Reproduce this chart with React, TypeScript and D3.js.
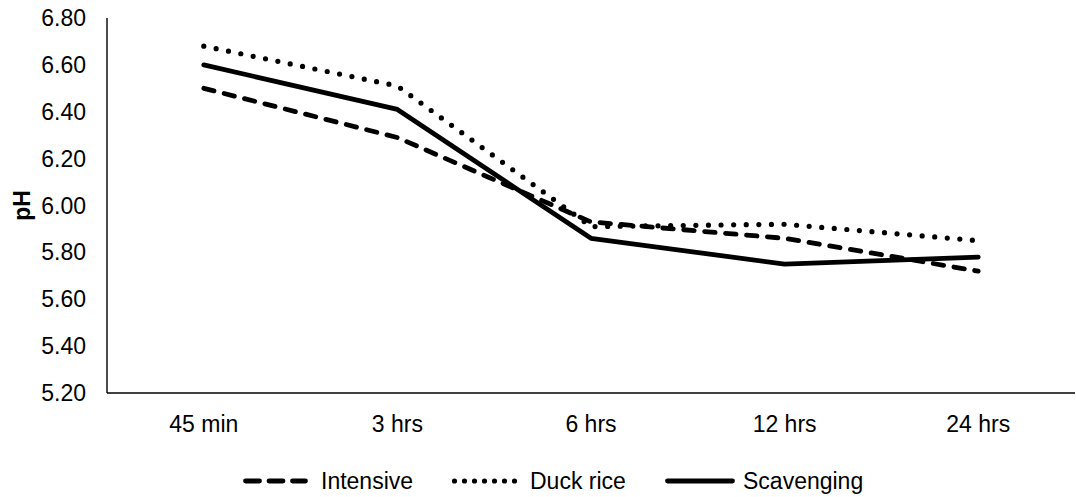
import React from "react";
import * as d3 from "d3";

const categories = ["45 min", "3 hrs", "6 hrs", "12 hrs", "24 hrs"];
const intensive = [6.5, 6.29, 5.93, 5.86, 5.72];
const duckRice = [6.68, 6.51, 5.91, 5.92, 5.85];
const scavenging = [6.6, 6.41, 5.86, 5.75, 5.78];
const yTicks = [5.2, 5.4, 5.6, 5.8, 6.0, 6.2, 6.4, 6.6, 6.8];
const seriesNames = ["Intensive", "Duck rice", "Scavenging"];

const W = 1076;
const H = 497;
const FONT = "'Liberation Sans', Arial, sans-serif";

export default function App() {
  const x = d3.scaleBand<string>().domain(categories).range([107, 1075]);
  const y = d3.scaleLinear().domain([5.2, 6.8]).range([393, 18]);
  const line = d3
    .line<number>()
    .x((_, i) => (x(categories[i]) as number) + x.bandwidth() / 2)
    .y((d) => y(d));

  const series = [
    { name: seriesNames[0], values: intensive, dash: "10.5,10.5", legendDash: "14,9.5", width: 4.8, lx: 243, lw: 65, tx: 321 },
    { name: seriesNames[1], values: duckRice, dash: "0,12.6", legendDash: "0,10", width: 5.2, lx: 452, lw: 70, tx: 530 },
    { name: seriesNames[2], values: scavenging, dash: "none", legendDash: "none", width: 4.8, lx: 665, lw: 70, tx: 743 },
  ];

  return (
    <svg
      width={W}
      height={H}
      style={{ position: "absolute", left: 0, top: 0, background: "#fff" }}
      fontFamily={FONT}
    >
      <line x1={107} x2={107} y1={18} y2={393} stroke="#000" strokeWidth={1.4} />
      <line x1={107} x2={1075} y1={393} y2={393} stroke="#000" strokeWidth={1.4} />
      {yTicks.map((t) => (
        <text key={t} x={86} y={y(t)} dy="0.35em" textAnchor="end" fontSize={23} fill="#000">
          {t.toFixed(2)}
        </text>
      ))}
      {categories.map((c) => (
        <text
          key={c}
          x={(x(c) as number) + x.bandwidth() / 2}
          y={424}
          dy="0.35em"
          textAnchor="middle"
          fontSize={23}
          fill="#000"
        >
          {c}
        </text>
      ))}
      <text
        transform={`translate(22,${y(6.0)}) rotate(-90)`}
        textAnchor="middle"
        dy="0.35em"
        fontSize={23}
        fontWeight="bold"
        fill="#000"
      >
        pH
      </text>
      {series.map((s) => (
        <path
          key={s.name}
          d={line(s.values) || ""}
          fill="none"
          stroke="#000"
          strokeWidth={s.width}
          strokeDasharray={s.dash}
          strokeLinecap="round"
          strokeLinejoin="round"
        />
      ))}
      {series.map((s) => (
        <g key={s.name + "-lg"}>
          <line
            x1={s.lx + 2.5}
            x2={s.lx + s.lw - 2.5}
            y1={481}
            y2={481}
            stroke="#000"
            strokeWidth={s.width}
            strokeDasharray={s.legendDash}
            strokeLinecap="round"
          />
          <text x={s.tx} y={481} dy="0.35em" fontSize={23} fill="#000">
            {s.name}
          </text>
        </g>
      ))}
    </svg>
  );
}
